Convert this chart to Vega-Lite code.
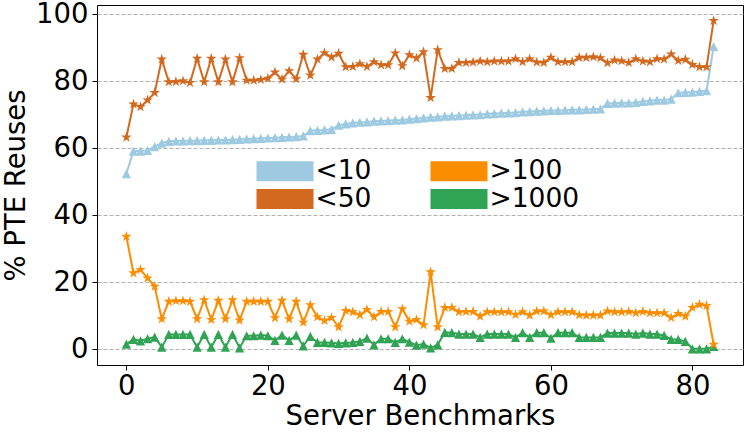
{
  "$schema": "https://vega.github.io/schema/vega-lite/v6.json",
  "width": 646,
  "height": 360,
  "autosize": {"type": "none"},
  "padding": {"left": 97, "top": 5, "right": 4, "bottom": 73},
  "background": "white",
  "config": {
    "font": "DejaVu Sans",
    "view": {"stroke": "#000000", "strokeWidth": 1},
    "axis": {
      "domain": false,
      "labelFont": "DejaVu Sans",
      "labelFontSize": 27.5,
      "labelColor": "#000000",
      "titleFont": "DejaVu Sans",
      "titleFontSize": 27.5,
      "titleFontWeight": "normal",
      "titleColor": "#000000",
      "tickColor": "#000000",
      "tickSize": 5,
      "tickWidth": 1
    },
    "legend": {
      "labelFont": "DejaVu Sans",
      "labelFontSize": 26.5,
      "labelColor": "#000000"
    }
  },
  "data": {
    "values": [
      {"i":0,"<10":52.5,"<50":63.3,">100":33.7,">1000":1.6},
      {"i":1,"<10":59.2,"<50":73.2,">100":22.8,">1000":3.0},
      {"i":2,"<10":59.2,"<50":72.4,">100":23.8,">1000":2.6},
      {"i":3,"<10":59.4,"<50":74.4,">100":21.3,">1000":3.2},
      {"i":4,"<10":60.5,"<50":76.6,">100":18.8,">1000":3.7},
      {"i":5,"<10":61.6,"<50":86.6,">100":9.1,">1000":0.7},
      {"i":6,"<10":62.1,"<50":79.8,">100":14.3,">1000":4.5},
      {"i":7,"<10":62.2,"<50":79.9,">100":14.5,">1000":4.5},
      {"i":8,"<10":62.2,"<50":80.1,">100":14.5,">1000":4.5},
      {"i":9,"<10":62.3,"<50":79.6,">100":14.3,">1000":4.5},
      {"i":10,"<10":62.3,"<50":86.8,">100":9.1,">1000":0.7},
      {"i":11,"<10":62.4,"<50":79.8,">100":14.8,">1000":4.5},
      {"i":12,"<10":62.4,"<50":86.8,">100":8.9,">1000":0.7},
      {"i":13,"<10":62.5,"<50":79.8,">100":14.6,">1000":4.5},
      {"i":14,"<10":62.5,"<50":86.6,">100":9.1,">1000":0.7},
      {"i":15,"<10":62.6,"<50":79.8,">100":14.8,">1000":4.5},
      {"i":16,"<10":62.7,"<50":87.0,">100":8.7,">1000":0.5},
      {"i":17,"<10":62.8,"<50":80.3,">100":14.3,">1000":4.1},
      {"i":18,"<10":62.9,"<50":80.3,">100":14.3,">1000":4.1},
      {"i":19,"<10":63.0,"<50":80.5,">100":14.3,">1000":4.3},
      {"i":20,"<10":63.1,"<50":80.9,">100":14.3,">1000":4.1},
      {"i":21,"<10":63.2,"<50":82.7,">100":9.4,">1000":2.7},
      {"i":22,"<10":63.3,"<50":80.6,">100":14.6,">1000":4.3},
      {"i":23,"<10":63.4,"<50":83.1,">100":9.1,">1000":2.7},
      {"i":24,"<10":63.5,"<50":80.7,">100":14.3,">1000":4.3},
      {"i":25,"<10":63.7,"<50":88.0,">100":8.1,">1000":1.1},
      {"i":26,"<10":65.3,"<50":81.8,">100":13.3,">1000":3.9},
      {"i":27,"<10":65.4,"<50":86.6,">100":9.7,">1000":2.1},
      {"i":28,"<10":65.5,"<50":88.5,">100":8.6,">1000":2.1},
      {"i":29,"<10":65.7,"<50":87.2,">100":9.5,">1000":2.0},
      {"i":30,"<10":66.9,"<50":88.3,">100":6.7,">1000":1.8},
      {"i":31,"<10":67.3,"<50":84.3,">100":11.6,">1000":2.0},
      {"i":32,"<10":67.6,"<50":84.4,">100":11.2,">1000":2.1},
      {"i":33,"<10":67.8,"<50":85.2,">100":10.3,">1000":2.4},
      {"i":34,"<10":67.9,"<50":84.4,">100":11.9,">1000":3.4},
      {"i":35,"<10":68.1,"<50":85.8,">100":9.7,">1000":1.4},
      {"i":36,"<10":68.2,"<50":84.9,">100":11.3,">1000":3.2},
      {"i":37,"<10":68.3,"<50":84.9,">100":11.3,">1000":3.2},
      {"i":38,"<10":68.4,"<50":88.4,">100":6.7,">1000":2.1},
      {"i":39,"<10":68.5,"<50":84.6,">100":12.1,">1000":3.2},
      {"i":40,"<10":68.7,"<50":87.9,">100":8.4,">1000":2.2},
      {"i":41,"<10":68.9,"<50":86.9,">100":8.9,">1000":1.3},
      {"i":42,"<10":69.1,"<50":88.8,">100":7.3,">1000":1.6},
      {"i":43,"<10":69.3,"<50":75.1,">100":23.1,">1000":0.5},
      {"i":44,"<10":69.4,"<50":89.4,">100":6.7,">1000":1.4},
      {"i":45,"<10":69.6,"<50":83.8,">100":12.5,">1000":5.1},
      {"i":46,"<10":69.7,"<50":83.8,">100":12.5,">1000":5.0},
      {"i":47,"<10":69.8,"<50":85.6,">100":11.2,">1000":4.6},
      {"i":48,"<10":69.9,"<50":85.6,">100":11.3,">1000":4.6},
      {"i":49,"<10":70.0,"<50":85.7,">100":11.3,">1000":4.6},
      {"i":50,"<10":70.1,"<50":86.0,">100":9.9,">1000":3.6},
      {"i":51,"<10":70.3,"<50":85.8,">100":11.2,">1000":4.6},
      {"i":52,"<10":70.4,"<50":86.0,">100":11.2,">1000":4.6},
      {"i":53,"<10":70.5,"<50":86.0,">100":11.2,">1000":4.6},
      {"i":54,"<10":70.6,"<50":86.0,">100":11.2,">1000":4.6},
      {"i":55,"<10":70.7,"<50":86.7,">100":10.4,">1000":3.6},
      {"i":56,"<10":70.9,"<50":85.8,">100":11.2,">1000":5.0},
      {"i":57,"<10":71.0,"<50":86.7,">100":10.2,">1000":3.6},
      {"i":58,"<10":71.1,"<50":85.7,">100":11.4,">1000":5.0},
      {"i":59,"<10":71.2,"<50":85.6,">100":11.4,">1000":5.0},
      {"i":60,"<10":71.3,"<50":87.1,">100":10.3,">1000":3.4},
      {"i":61,"<10":71.3,"<50":85.8,">100":11.2,">1000":5.0},
      {"i":62,"<10":71.4,"<50":85.8,">100":11.2,">1000":5.0},
      {"i":63,"<10":71.5,"<50":85.8,">100":11.2,">1000":5.0},
      {"i":64,"<10":71.5,"<50":87.1,">100":10.3,">1000":3.6},
      {"i":65,"<10":71.6,"<50":87.1,">100":10.2,">1000":3.6},
      {"i":66,"<10":71.7,"<50":87.3,">100":10.2,">1000":3.6},
      {"i":67,"<10":71.8,"<50":87.0,">100":10.2,">1000":3.6},
      {"i":68,"<10":73.4,"<50":85.5,">100":11.4,">1000":4.9},
      {"i":69,"<10":73.5,"<50":86.3,">100":11.2,">1000":4.9},
      {"i":70,"<10":73.6,"<50":86.1,">100":11.2,">1000":4.9},
      {"i":71,"<10":73.6,"<50":85.6,">100":11.3,">1000":4.9},
      {"i":72,"<10":73.7,"<50":86.7,">100":10.9,">1000":4.6},
      {"i":73,"<10":74.0,"<50":86.0,">100":11.3,">1000":4.9},
      {"i":74,"<10":74.2,"<50":85.8,">100":10.9,">1000":4.6},
      {"i":75,"<10":74.4,"<50":86.7,">100":10.9,">1000":4.6},
      {"i":76,"<10":74.4,"<50":86.6,">100":10.9,">1000":4.2},
      {"i":77,"<10":74.7,"<50":88.1,">100":9.5,">1000":3.0},
      {"i":78,"<10":76.6,"<50":86.2,">100":10.7,">1000":3.0},
      {"i":79,"<10":76.7,"<50":86.5,">100":9.9,">1000":2.4},
      {"i":80,"<10":76.8,"<50":85.0,">100":12.5,">1000":0.2},
      {"i":81,"<10":77.0,"<50":84.3,">100":13.4,">1000":0.2},
      {"i":82,"<10":77.2,"<50":84.3,">100":13.1,">1000":0.2},
      {"i":83,"<10":90.4,"<50":98.1,">100":1.5,">1000":0.9}
    ]
  },
  "transform": [
    {"fold": ["<10", "<50", ">100", ">1000"], "as": ["series", "v"]}
  ],
  "encoding": {
    "x": {
      "field": "i",
      "type": "quantitative",
      "scale": {"domain": [-4.15, 87.15], "nice": false, "zero": false},
      "axis": {
        "title": "Server Benchmarks",
        "values": [0, 20, 40, 60, 80],
        "grid": false,
        "labelPadding": 2,
        "titlePadding": 3
      }
    },
    "y": {
      "field": "v",
      "type": "quantitative",
      "scale": {"domain": [-4.63, 102.78], "nice": false, "zero": false},
      "axis": {
        "title": "% PTE Reuses",
        "values": [0, 20, 40, 60, 80, 100],
        "grid": true,
        "gridColor": "#b0b0b0",
        "gridDash": [4, 2],
        "gridWidth": 1,
        "labelPadding": 4,
        "titlePadding": 5
      }
    },
    "color": {
      "field": "series",
      "type": "nominal",
      "scale": {
        "domain": ["<10", "<50", ">100", ">1000"],
        "range": ["#9ecae1", "#d2691e", "#fb8d00", "#31a354"]
      },
      "legend": {
        "title": null,
        "orient": "none",
        "legendX": 174,
        "legendY": 152,
        "columns": 2,
        "symbolType": "M-2.036,-0.714L2.036,-0.714L2.036,0.714L-2.036,0.714Z",
        "symbolSize": 784,
        "symbolStrokeWidth": 0,
        "symbolOpacity": 1,
        "labelOffset": 16.5,
        "columnPadding": 58,
        "rowPadding": 0,
        "padding": 0,
        "encode": {
          "symbols": {
            "update": {
              "fill": {"scale": "color", "field": "value"},
              "stroke": {"value": "transparent"},
              "strokeWidth": {"value": 0},
              "opacity": {"value": 1}
            }
          }
        }
      }
    }
  },
  "layer": [
    {
      "mark": {"type": "line", "strokeWidth": 2},
      "encoding": {"detail": {"field": "series"}}
    },
    {
      "transform": [{"filter": {"field": "series", "oneOf": ["<10", ">1000"]}}],
      "mark": {"type": "point", "filled": true, "opacity": 1, "size": 85, "shape": "M0,-1L1,1L-1,1Z"}
    },
    {
      "transform": [{"filter": {"field": "series", "oneOf": ["<50", ">100"]}}],
      "mark": {"type": "point", "filled": true, "opacity": 1, "size": 121, "shape": "M0,-1L0.2245,-0.309L0.9511,-0.309L0.3633,0.118L0.5878,0.809L0,0.382L-0.5878,0.809L-0.3633,0.118L-0.9511,-0.309L-0.2245,-0.309Z"}
    }
  ]
}
